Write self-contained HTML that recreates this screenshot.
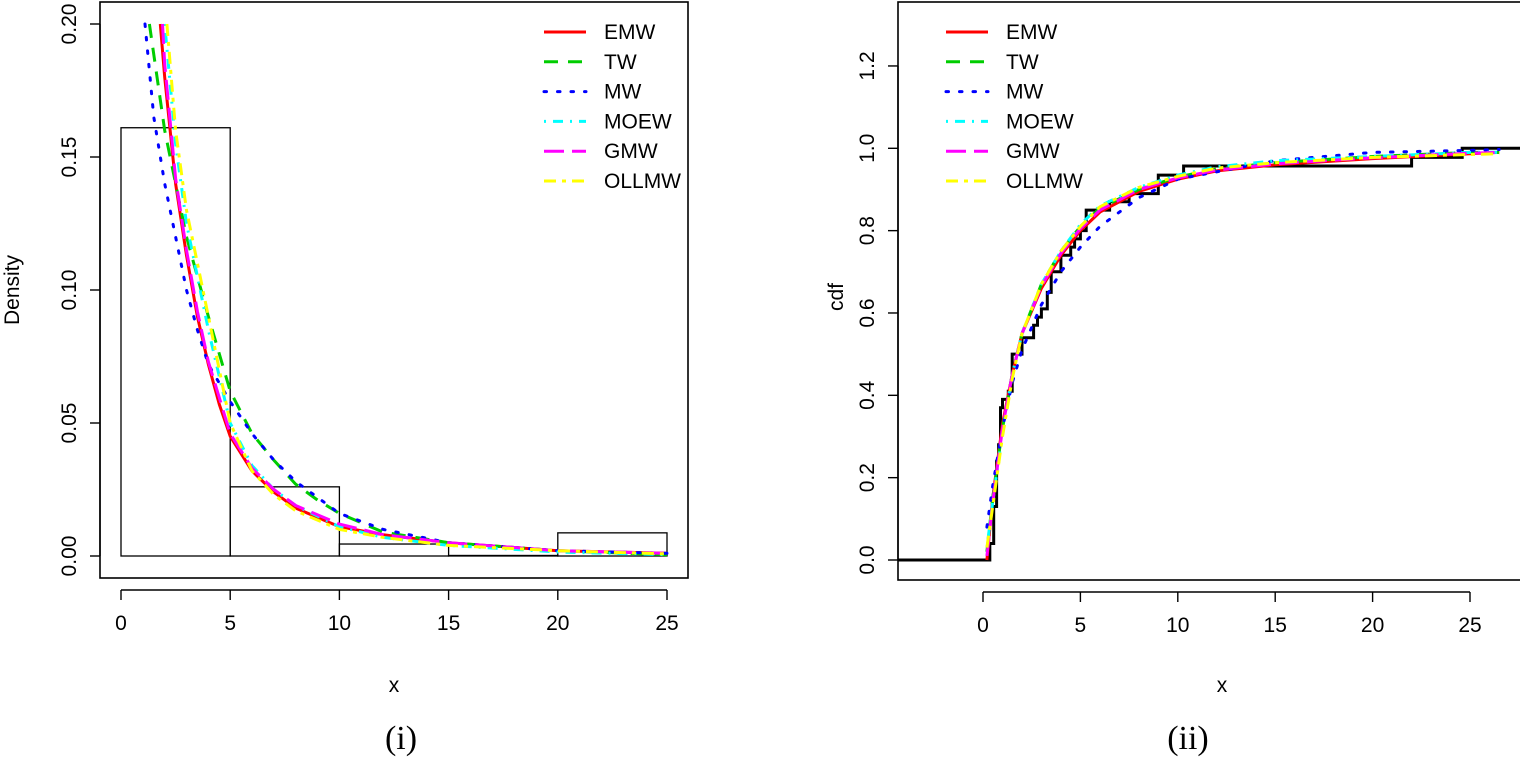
<!DOCTYPE html>
<html><head><meta charset="utf-8">
<style>
html,body{margin:0;padding:0;background:#fff;}
svg{display:block;font-family:"Liberation Sans",sans-serif;}
</style></head>
<body>
<svg id="fig" width="1520" height="758" viewBox="0 0 1520 758" xmlns="http://www.w3.org/2000/svg">
<g id="p1"></g>
<g id="p2"></g>
<text x="401" y="749" font-family="Liberation Serif,serif" font-size="34" text-anchor="middle">(i)</text>
<text x="1188" y="749" font-family="Liberation Serif,serif" font-size="34" text-anchor="middle">(ii)</text>
</svg>
<script>
// ---------- data: density panel ----------
const histBreaks = [0,5,10,15,20,25];
const histDensity = [0.161,0.026,0.0045,0.0002,0.0087];
const densTicksX = [0,5,10,15,20,25];
const densTicksY = [0,0.05,0.10,0.15,0.20];
const densTickLabelsY = ["0.00","0.05","0.10","0.15","0.20"];
const dEMW_x = [1.8,2,2.5,3,3.5,4,4.5,5,6,7,8,10,12,15,20,25];
const dEMW_y = [0.2,0.18,0.14,0.113,0.09,0.072,0.057,0.045,0.032,0.024,0.018,0.011,0.008,0.005,0.002,0.001];
const dTW_x = [1.3,2,3,4,5,6,7,8,9,10,12,15,20,25];
const dTW_y = [0.2,0.16,0.12,0.09,0.062,0.046,0.036,0.027,0.021,0.016,0.009,0.005,0.002,0.0005];
const dMW_x = [1.1,1.5,2,2.5,3,3.5,4,5,6,7,8,10,12,15,20,25];
const dMW_y = [0.2,0.165,0.14,0.12,0.1,0.085,0.072,0.058,0.046,0.036,0.028,0.016,0.01,0.005,0.002,0.001];
const dMOEW_x = [2,2.5,3,4,5,6,7,8,10,12,15,20,25];
const dMOEW_y = [0.2,0.155,0.125,0.085,0.05,0.034,0.025,0.019,0.011,0.007,0.004,0.0015,0.0005];
const dGMW_x = [1.9,2,2.5,3,3.5,4,5,6,7,8,10,12,15,20,25];
const dGMW_y = [0.2,0.185,0.142,0.115,0.092,0.073,0.046,0.033,0.025,0.019,0.012,0.008,0.005,0.002,0.001];
const dOLL_x = [2.1,2.5,3,4,5,6,7,8,10,12,15,20,25];
const dOLL_y = [0.2,0.16,0.13,0.09,0.05,0.032,0.023,0.017,0.01,0.007,0.004,0.002,0.0008];
// ---------- data: cdf panel ----------
const cdfTicksX = [0,5,10,15,20,25];
const cdfTicksY = [0,0.2,0.4,0.6,0.8,1.0,1.2];
const cdfTickLabelsY = ["0.0","0.2","0.4","0.6","0.8","1.0","1.2"];
const ecdfX = [0.35,0.55,0.7,0.8,0.9,1.0,1.3,1.5,2.0,2.6,2.8,3.0,3.3,3.5,4.0,4.5,4.7,5.0,5.3,6.5,7.0,7.5,9.0,10.3,22.0,24.6];
const ecdfY = [0.04,0.13,0.24,0.28,0.37,0.39,0.41,0.5,0.54,0.57,0.59,0.61,0.65,0.7,0.74,0.76,0.78,0.8,0.85,0.87,0.87,0.89,0.935,0.957,0.978,1.0];
const cEMW_x = [0.2,0.5,1,1.5,2,3,4,5,6,8,10,12,15,20,25,26.5];
const cEMW_y = [0,0.15,0.33,0.45,0.55,0.66,0.74,0.8,0.845,0.895,0.925,0.945,0.96,0.975,0.987,0.99];
const cTW_x = [0.2,0.5,1,1.5,2,3,4,5,6,8,10,12,15,20,25,26.5];
const cTW_y = [0.02,0.15,0.32,0.45,0.55,0.67,0.75,0.81,0.855,0.9,0.93,0.95,0.965,0.98,0.99,0.99];
const cMW_x = [0.2,0.5,1,1.5,2,3,4,5,6,8,10,15,20,25,26.5];
const cMW_y = [0.08,0.18,0.32,0.43,0.51,0.62,0.7,0.76,0.81,0.88,0.925,0.97,0.99,0.995,0.997];
const cMOEW_x = [0.2,0.5,1,1.5,2,3,4,5,6,8,10,12,15,20,25,26.5];
const cMOEW_y = [0.03,0.14,0.31,0.45,0.55,0.67,0.75,0.815,0.86,0.905,0.935,0.955,0.97,0.98,0.99,0.99];
const cGMW_x = [0.2,0.5,1,1.5,2,3,4,5,6,8,10,12,15,20,25,26.5];
const cGMW_y = [0.01,0.14,0.32,0.45,0.55,0.665,0.745,0.805,0.85,0.9,0.928,0.947,0.962,0.977,0.988,0.99];
const cOLL_x = [0.2,0.5,1,1.5,2,3,4,5,6,8,10,12,15,20,25,26.5];
const cOLL_y = [0.03,0.13,0.3,0.44,0.55,0.67,0.75,0.81,0.858,0.905,0.932,0.952,0.965,0.978,0.985,0.987];
const legendLabels = ["EMW","TW","MW","MOEW","GMW","OLLMW"];

const NS="http://www.w3.org/2000/svg";
function mk(parent,tag,attrs){const e=document.createElementNS(NS,tag);for(const k in attrs)e.setAttribute(k,attrs[k]);parent.appendChild(e);return e;}
const styles=[
 {stroke:"#ff0000",dash:""},
 {stroke:"#00cd00",dash:"14 10"},
 {stroke:"#0000ff",dash:"2.5 11"},
 {stroke:"#00ffff",dash:"2 7 10 7"},
 {stroke:"#ff00ff",dash:"20 8"},
 {stroke:"#ffff00",dash:"12 6 4 6"}
];

function panel(g,o){
  const sx=v=>o.x0+(v-o.xa)*o.kx, sy=v=>o.y0-(v-o.ya)*o.ky;
  const fr=mk(g,'rect',{x:o.bx,y:o.by,width:o.bw,height:o.bh,fill:'none',stroke:'#000','stroke-width':1.6});
  
  const ax=mk(g,'line',{x1:sx(o.tx[0]),x2:sx(o.tx[o.tx.length-1]),y1:o.axY,y2:o.axY,stroke:'#000','stroke-width':1.4});
  
  o.tx.forEach(t=>{
    mk(g,'line',{x1:sx(t),x2:sx(t),y1:o.axY,y2:o.axY+10,stroke:'#000','stroke-width':1.4});
    const tl=mk(g,'text',{x:sx(t),y:o.axY+40,'font-size':21,'text-anchor':'middle'});
    tl.textContent=t;
  });
  const ay=mk(g,'line',{x1:o.axX,x2:o.axX,y1:sy(o.ty[0]),y2:sy(o.ty[o.ty.length-1]),stroke:'#000','stroke-width':1.4});
  
  o.ty.forEach((t,i)=>{
    mk(g,'line',{x1:o.axX,x2:o.axX-10,y1:sy(t),y2:sy(t),stroke:'#000','stroke-width':1.4});
    const x=o.axX-24,y=sy(t);
    const tl=mk(g,'text',{x:x,y:y,'font-size':21,'text-anchor':'middle',transform:`rotate(-90 ${x} ${y})`});
    tl.textContent=o.tyl[i];
  });
  const xt=mk(g,'text',{x:o.xtX,y:692,'font-size':21,'text-anchor':'middle'});
  xt.textContent='x';
  const yt=mk(g,'text',{x:o.ytX,y:o.ytY,'font-size':21,'text-anchor':'middle',transform:`rotate(-90 ${o.ytX} ${o.ytY})`});
  yt.textContent=o.ytitle;
  const cid='clip'+o.id;
  const cp=mk(g,'clipPath',{id:cid});mk(cp,'rect',{x:o.bx,y:o.by,width:o.bw,height:o.bh});
  const plot=mk(g,'g',{'clip-path':`url(#${cid})`});
  
  return {sx,sy,plot};
}

const P1=panel(document.getElementById('p1'),{id:1,xa:0,x0:121,kx:21.84,ya:0,y0:556,ky:2660,
  bx:100,by:2,bw:588,bh:576,axY:578+12,axX:100,tx:densTicksX,ty:densTicksY,tyl:densTickLabelsY,
  xtX:394,ytX:19,ytY:290,ytitle:'Density'});
histDensity.forEach((d,i)=>{
  const x1=P1.sx(histBreaks[i]),x2=P1.sx(histBreaks[i+1]),y=P1.sy(d);
  const r=mk(P1.plot,'rect',{x:x1,y:y,width:x2-x1,height:P1.sy(0)-y,fill:'none',stroke:'#000','stroke-width':1.3});
  
  
});
const dSeries=[[dEMW_x,dEMW_y],[dTW_x,dTW_y],[dMW_x,dMW_y],[dMOEW_x,dMOEW_y],[dGMW_x,dGMW_y],[dOLL_x,dOLL_y]];
function drawSeries(P,series,names){
  series.forEach((s,i)=>{
    const pts=s[0].map((x,j)=>P.sx(x).toFixed(1)+','+P.sy(s[1][j]).toFixed(1)).join(' ');
    const l=mk(P.plot,'polyline',{points:pts,fill:'none',stroke:styles[i].stroke,'stroke-width':3,'stroke-dasharray':styles[i].dash,'stroke-linejoin':'round','stroke-linecap':i==2?'round':'butt'});
    
    
  });
}
drawSeries(P1,dSeries,'density-curve');

const P2=panel(document.getElementById('p2'),{id:2,xa:0,x0:983,kx:19.48,ya:0,y0:560,ky:411.7,
  bx:898,by:2,bw:630,bh:578,axY:580+12,axX:898,tx:cdfTicksX,ty:cdfTicksY,tyl:cdfTickLabelsY,
  xtX:1222,ytX:843,ytY:297,ytitle:'cdf'});
(function(){
  let d='M'+P2.sx(-10)+','+P2.sy(0)+' H'+P2.sx(ecdfX[0]);
  ecdfX.forEach((x,i)=>{
    d+=' V'+P2.sy(ecdfY[i]).toFixed(1);
    const nx=i+1<ecdfX.length?ecdfX[i+1]:40;
    d+=' H'+P2.sx(nx).toFixed(1);
  });
  const p=mk(P2.plot,'path',{d:d,fill:'none',stroke:'#000','stroke-width':3});
  
  
})();
const cSeries=[[cEMW_x,cEMW_y],[cTW_x,cTW_y],[cMW_x,cMW_y],[cMOEW_x,cMOEW_y],[cGMW_x,cGMW_y],[cOLL_x,cOLL_y]];
drawSeries(P2,cSeries,'cdf-curve');

function legend(g,lx,tx,y0){
  legendLabels.forEach((lab,i)=>{
    const y=y0+i*29.8;
    const l=mk(g,'line',{x1:lx,x2:lx+42,y1:y,y2:y,stroke:styles[i].stroke,'stroke-width':3,'stroke-dasharray':styles[i].dash,'stroke-linecap':i==2?'round':'butt'});
    
    
    const t=mk(g,'text',{x:tx,y:y+7,'font-size':21});
    t.textContent=lab;
    
    
  });
}
legend(document.getElementById('p1'),544,604,32);
legend(document.getElementById('p2'),946,1006,32);
</script>
</body></html>
